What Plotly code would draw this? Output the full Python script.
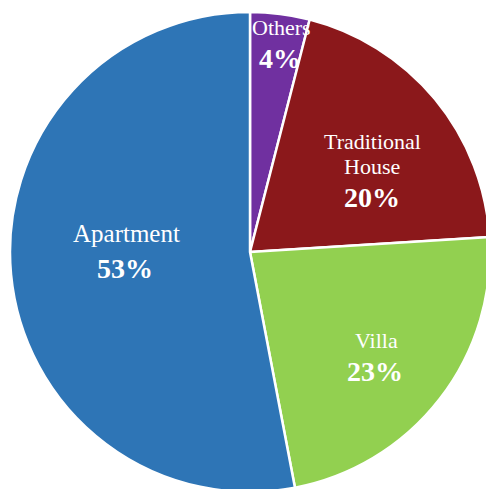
"""Housing type share pie chart."""

import plotly.graph_objects as go

LABELS = ["Others", "Traditional House", "Villa", "Apartment"]
SHARES = [4, 20, 23, 53]
COLORS = ["#7030A0", "#8B181B", "#92D050", "#2E75B6"]

# label layout (pixel centres of each text line) and sizes
LABEL_LINES = {"Traditional House": ["Traditional", "House"]}
LINE_POS = {
    "Others": [(281, 28), (280, 59)],
    "Traditional House": [(372, 141), (372, 166), (372, 197)],
    "Villa": [(376, 340), (375, 371)],
    "Apartment": [(126, 233), (125, 268)],
}
LABEL_SIZE = {"Apartment": 25}
# the pie runs a little past the window edge, so the figure is drawn slightly larger
W, H = 496, 496
FONT = "Liberation Serif, Times New Roman, serif"

fig = go.Figure(
    go.Pie(
        labels=LABELS,
        values=SHARES,
        sort=False,
        direction="clockwise",
        rotation=0,
        marker={"colors": COLORS, "line": {"color": "white", "width": 2.5}},
        textinfo="none",
        hoverinfo="skip",
        domain={"x": [10 / W, 490 / W], "y": [1 - 492 / H, 1 - 12 / H]},
    )
)

total = sum(SHARES)
for label, share in zip(LABELS, SHARES):
    lines = LABEL_LINES.get(label, [label])
    texts = [(t, LABEL_SIZE.get(label, 22)) for t in lines]
    texts.append((f"<b>{share / total * 100:.0f}%</b>", 28))
    for (text, size), (px, py) in zip(texts, LINE_POS[label]):
        fig.add_annotation(
            x=px / W,
            y=1 - py / H,
            xref="paper",
            yref="paper",
            text=text,
            showarrow=False,
            xanchor="center",
            yanchor="middle",
            font={"family": FONT, "size": size, "color": "white"},
        )

fig.update_layout(
    width=W,
    height=H,
    margin={"l": 0, "r": 0, "t": 0, "b": 0},
    paper_bgcolor="white",
    showlegend=False,
)

fig.write_html(
    "out.html",
    config={"displayModeBar": False},
    post_script=(
        "document.body.style.margin='0';"
        "document.documentElement.style.overflow='hidden';"
        "document.body.style.overflow='hidden';"
    ),
)
